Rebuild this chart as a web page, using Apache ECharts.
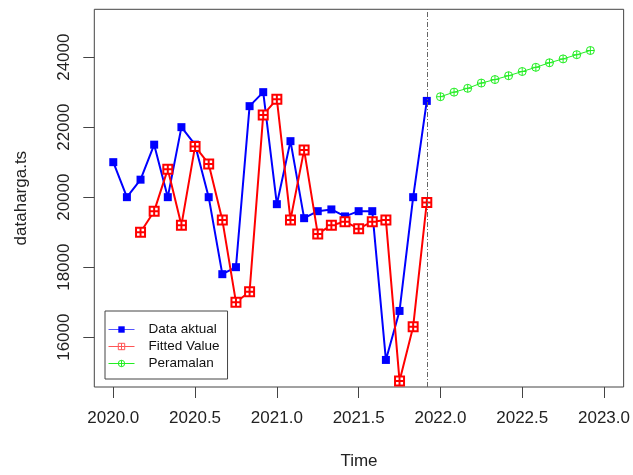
<!DOCTYPE html>
<html>
<head>
<meta charset="utf-8">
<script src="https://cdn.jsdelivr.net/npm/echarts@6/dist/echarts.min.js"></script>
<style>html,body{margin:0;padding:0;background:#fff}#c{width:633px;height:475px}</style>
</head>
<body>
<div id="c"></div>
<script>
// monthly time series, frequency 12
var actualStart = 2020;          // Jan 2020
var fittedStart = 2020 + 2 / 12; // Mar 2020
var forecastStart = 2022;        // Jan 2022
var freq = 12;

var actualValues = [21000, 20000, 20500, 21500, 20000, 22000, 21500, 20000, 17800, 18000, 22600, 23000,
                    19800, 21600, 19400, 19600, 19650, 19450, 19600, 19600, 15350, 16750, 20000, 22750];
var fittedValues = [19000, 19600, 20800, 19200, 21450, 20950, 19350, 17000, 17300, 22350,
                    22800, 19350, 21350, 18950, 19200, 19300, 19100, 19300, 19350, 14750, 16300, 19850];
var forecastValues = [22870, 23000, 23110, 23260, 23360, 23470, 23590, 23710, 23840, 23950, 24070, 24190];

var xTicks = [2020.0, 2020.5, 2021.0, 2021.5, 2022.0, 2022.5, 2023.0];
var yTicks = [16000, 18000, 20000, 22000, 24000];
var splitTime = 2021 + 11 / 12;

function ts(start, vals) {
  return vals.map(function (v, i) { return [start + i / freq, v]; });
}

var font = 'Liberation Sans, Arial, sans-serif';
var chart = echarts.init(document.getElementById('c'), null, { renderer: 'canvas' });

var sqPlus = 'path://M0 0H10V10H0Z M5 0V10 M0 5H10';
var circPlus = 'path://M5 0A5 5 0 1 1 5 10A5 5 0 1 1 5 0Z M5 0V10 M0 5H10';
var blue = '#0000ff', red = '#ff0000', green = '#22ee22';

chart.setOption({
  animation: false,
  backgroundColor: '#fff',
  textStyle: { fontFamily: font },
  grid: {
    left: 94.3, right: 8, top: 9.3, bottom: 86.7,
    show: true, borderColor: '#444', borderWidth: 1, backgroundColor: 'transparent'
  },
  legend: {
    orient: 'vertical',
    left: 105, top: 311,
    padding: [10, 8, 7, 3],
    borderColor: '#444', borderWidth: 1,
    backgroundColor: '#fff',
    itemWidth: 26, itemHeight: 8, itemGap: 0,
    textStyle: { fontFamily: font, fontSize: 13.5, color: '#111', lineHeight: 17, padding: [0, 0, 0, 9] },
    data: [
      { name: 'Data aktual', itemStyle: { color: blue }, lineStyle: { color: '#5555ff', width: 1 } },
      { name: 'Fitted Value', itemStyle: { color: '#ffffff', borderColor: '#ff5555', borderWidth: 1 }, lineStyle: { color: '#ff5555', width: 1 } },
      { name: 'Peramalan', itemStyle: { color: 'rgba(255,255,255,0)', borderColor: green, borderWidth: 1 }, lineStyle: { color: green, width: 1 } }
    ]
  },
  xAxis: {
    type: 'value',
    min: 2019.884, max: 2023.12,
    name: 'Time', nameLocation: 'middle', nameGap: 66,
    nameTextStyle: { fontFamily: font, fontSize: 17, color: '#222' },
    splitLine: { show: false },
    axisLine: { show: false },
    axisTick: { show: true, inside: false, length: 11, customValues: xTicks, lineStyle: { color: '#444' } },
    axisLabel: {
      customValues: xTicks, margin: 23, fontFamily: font, fontSize: 17, color: '#222',
      formatter: function (v) { return v.toFixed(1); }
    }
  },
  yAxis: {
    type: 'value',
    min: 14577, max: 25367,
    name: 'dataharga.ts', nameLocation: 'middle', nameGap: 64, nameRotate: 90,
    nameTextStyle: { fontFamily: font, fontSize: 17, color: '#222' },
    splitLine: { show: false },
    axisLine: { show: false },
    axisTick: { show: true, inside: false, length: 11, customValues: yTicks, lineStyle: { color: '#444' } },
    axisLabel: {
      customValues: yTicks, rotate: 90, margin: 21, fontFamily: font, fontSize: 17, color: '#222',
      formatter: function (v) { return String(v); }
    }
  },
  series: [
    {
      name: 'Data aktual', type: 'line',
      data: ts(actualStart, actualValues),
      symbol: 'rect', symbolSize: 8,
      lineStyle: { color: blue, width: 2 },
      itemStyle: { color: blue },
      z: 3,
      markLine: {
        silent: true, symbol: 'none', animation: false,
        label: { show: false },
        lineStyle: { color: '#666', width: 1, type: [5, 2, 1, 2] },
        data: [{ xAxis: splitTime }]
      }
    },
    {
      name: 'Fitted Value', type: 'line',
      data: ts(fittedStart, fittedValues),
      symbol: sqPlus, symbolSize: 9,
      lineStyle: { color: red, width: 2 },
      itemStyle: { color: '#ffffff', borderColor: red, borderWidth: 2 },
      z: 4
    },
    {
      name: 'Peramalan', type: 'line',
      data: ts(forecastStart, forecastValues),
      symbol: circPlus, symbolSize: 8,
      lineStyle: { color: green, width: 1 },
      itemStyle: { color: 'rgba(255,255,255,0)', borderColor: green, borderWidth: 1 },
      z: 4
    }
  ]
});
</script>
</body>
</html>
